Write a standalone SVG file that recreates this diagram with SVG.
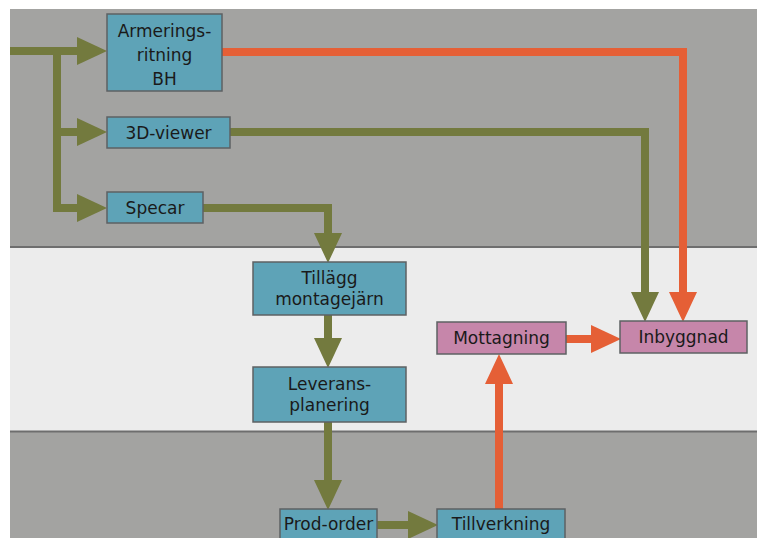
<svg xmlns="http://www.w3.org/2000/svg" width="757" height="538" viewBox="0 0 757 538">
  <style>
    .box { stroke: #5e6163; stroke-width: 1.5; }
    .blue { fill: #5ea3b7; }
    .pink { fill: #c686aa; }
    .lbl { font-family: "DejaVu Sans", Verdana, sans-serif; font-size: 17px; fill: #1a1a1a; text-anchor: middle; }
    .g { fill: none; stroke: #737a3e; stroke-width: 8; }
    .o { fill: none; stroke: #e55f36; stroke-width: 8; }
    .sep { stroke: #6e6e6e; stroke-width: 2; }
  </style>
  <defs>
    <marker id="ah-g" markerUnits="userSpaceOnUse" viewBox="0 0 30 28" markerWidth="30" markerHeight="28" refX="0" refY="14" orient="auto">
      <path d="M0,0 L30,14 L0,28 Z" fill="#737a3e"/>
    </marker>
    <marker id="ah-o" markerUnits="userSpaceOnUse" viewBox="0 0 30 28" markerWidth="30" markerHeight="28" refX="0" refY="14" orient="auto">
      <path d="M0,0 L30,14 L0,28 Z" fill="#e55f36"/>
    </marker>
  </defs>

  <!-- swimlane background -->
  <rect x="0" y="0" width="757" height="538" fill="#ffffff"/>
  <rect x="10" y="9" width="747" height="529" fill="#a3a3a1"/>
  <rect x="10" y="248" width="747" height="183" fill="#ececec"/>
  <line class="sep" x1="10" y1="247" x2="757" y2="247"/>
  <line class="sep" x1="10" y1="431.5" x2="757" y2="431.5"/>

  <!-- connectors -->
  <g id="connectors">
    <path class="g" d="M10,51 H77" marker-end="url(#ah-g)"/>
    <path class="g" d="M57,51 V208 H77" marker-end="url(#ah-g)"/>
    <path class="g" d="M57,132 H77" marker-end="url(#ah-g)"/>
    <path class="g" d="M203,208 H328 V233" marker-end="url(#ah-g)"/>
    <path class="g" d="M328,315 V338" marker-end="url(#ah-g)"/>
    <path class="g" d="M328,422 V480" marker-end="url(#ah-g)"/>
    <path class="g" d="M377,525 H408" marker-end="url(#ah-g)"/>
    <path class="g" d="M230,132 H645 V292" marker-end="url(#ah-g)"/>
    <path class="o" d="M222,52 H683 V292" marker-end="url(#ah-o)"/>
    <path class="o" d="M499,509 V384" marker-end="url(#ah-o)"/>
    <path class="o" d="M566,339 H591" marker-end="url(#ah-o)"/>
  </g>

  <!-- nodes -->
  <g id="armeringsritning">
    <rect class="box blue" x="107" y="14" width="115" height="77"/>
    <text class="lbl" x="164.5" y="37">Armerings-</text>
    <text class="lbl" x="164.5" y="61">ritning</text>
    <text class="lbl" x="164.5" y="85">BH</text>
  </g>
  <g id="viewer3d">
    <rect class="box blue" x="107" y="117" width="123" height="31"/>
    <text class="lbl" x="168.5" y="139">3D-viewer</text>
  </g>
  <g id="specar">
    <rect class="box blue" x="107" y="192" width="96" height="31"/>
    <text class="lbl" x="155" y="214">Specar</text>
  </g>
  <g id="tillagg">
    <rect class="box blue" x="253" y="262" width="153" height="53"/>
    <text class="lbl" x="329.5" y="284">Tillägg</text>
    <text class="lbl" x="329.5" y="305">montagejärn</text>
  </g>
  <g id="leveransplanering">
    <rect class="box blue" x="253" y="367" width="153" height="55"/>
    <text class="lbl" x="329.5" y="390">Leverans-</text>
    <text class="lbl" x="329.5" y="411">planering</text>
  </g>
  <g id="mottagning">
    <rect class="box pink" x="437" y="322" width="129" height="32"/>
    <text class="lbl" x="501.5" y="344">Mottagning</text>
  </g>
  <g id="inbyggnad">
    <rect class="box pink" x="620" y="321" width="127" height="32"/>
    <text class="lbl" x="683.5" y="343">Inbyggnad</text>
  </g>
  <g id="prodorder">
    <rect class="box blue" x="280" y="509" width="97" height="40"/>
    <text class="lbl" x="328.5" y="530">Prod-order</text>
  </g>
  <g id="tillverkning">
    <rect class="box blue" x="437" y="509" width="128" height="40"/>
    <text class="lbl" x="501" y="530">Tillverkning</text>
  </g>
</svg>
